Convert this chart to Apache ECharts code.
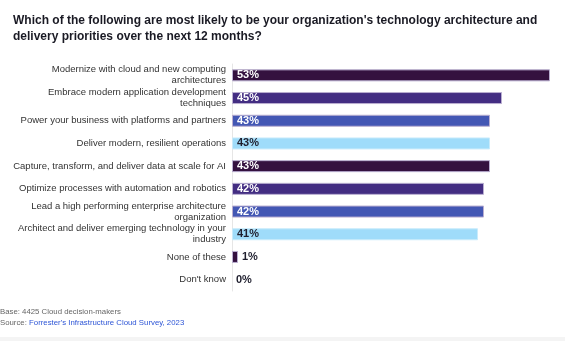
<!DOCTYPE html>
<html>
<head>
<meta charset="utf-8">
<script src="https://cdn.jsdelivr.net/npm/echarts@6/dist/echarts.min.js"></script>
<style>
html,body{margin:0;padding:0;background:#fff;}
#c{width:565px;height:341px;}
</style>
</head>
<body>
<div id="c"></div>
<script>
const categories = [
  "Modernize with cloud and new computing\narchitectures",
  "Embrace modern application development\ntechniques",
  "Power your business with platforms and partners",
  "Deliver modern, resilient operations",
  "Capture, transform, and deliver data at scale for AI",
  "Optimize processes with automation and robotics",
  "Lead a high performing enterprise architecture\norganization",
  "Architect and deliver emerging technology in your\nindustry",
  "None of these",
  "Don't know"
];
const values = [53, 45, 43, 43, 43, 42, 42, 41, 1, 0];
const barColors = ["#34113f", "#432d82", "#4357b4", "#9fdcfa", "#34113f", "#432d82", "#4357b4", "#9fdcfa", "#34113f", "#34113f"];
const titleText = "Which of the following are most likely to be your organization's technology architecture and\ndelivery priorities over the next 12 months?";
const baseText = "Base: 4425 Cloud decision-makers";
const sourceLabel = "Source: ";
const sourceLink = "Forrester's Infrastructure Cloud Survey, 2023";

const FONT = "Liberation Sans, Arial, Helvetica, sans-serif";
const chart = echarts.init(document.getElementById('c'), null, {renderer: 'canvas'});

const data = values.map((v, i) => {
  const small = v < 5;
  const light = barColors[i] === "#9fdcfa";
  return {
    value: v,
    itemStyle: {color: barColors[i], borderColor: light ? "#c9ebfb" : "#b9aed0", borderWidth: v > 0 ? 1 : 0},
    label: {
      position: small ? 'right' : 'insideLeft',
      color: (small || light) ? '#1f1f2e' : '#ffffff',
      distance: small ? 4 : 5
    }
  };
});

chart.setOption({
  animation: false,
  backgroundColor: '#ffffff',
  title: {
    text: titleText,
    left: 8, top: 8,
    textStyle: {fontFamily: FONT, fontSize: 12, fontWeight: 'bold', color: '#1a1a24', lineHeight: 16}
  },
  grid: {left: 232, top: 64, width: 330, height: 227, containLabel: false, outerBoundsMode: 'none'},
  xAxis: {
    type: 'value', min: 0, max: 55,
    show: false
  },
  yAxis: {
    type: 'category', data: categories, inverse: true,
    axisLine: {show: true, lineStyle: {color: '#e6e6e6', width: 1}},
    axisTick: {show: false},
    axisLabel: {interval: 0, fontFamily: FONT, fontSize: 9.5, color: '#333333', margin: 6, lineHeight: 11, align: 'right'}
  },
  series: [{
    type: 'bar',
    data: data,
    barWidth: 12,
    label: {show: true, formatter: '{c}%', fontFamily: FONT, fontSize: 11, fontWeight: 'bold'}
  }],
  graphic: [
    {type: 'rect', shape: {x: 0, y: 337, width: 565, height: 4}, style: {fill: '#f4f4f4'}},
    {type: 'text', left: 0, top: 308, style: {text: baseText, fontFamily: FONT, fontSize: 7.8, fill: '#666666'}},
    {type: 'text', left: 0, top: 319, style: {
      text: '{a|' + sourceLabel + '}{b|' + sourceLink + '}',
      rich: {a: {fontFamily: FONT, fontSize: 7.8, fill: '#666666'}, b: {fontFamily: FONT, fontSize: 7.8, fill: '#2d55d6'}}
    }}
  ]
});
</script>
</body>
</html>
